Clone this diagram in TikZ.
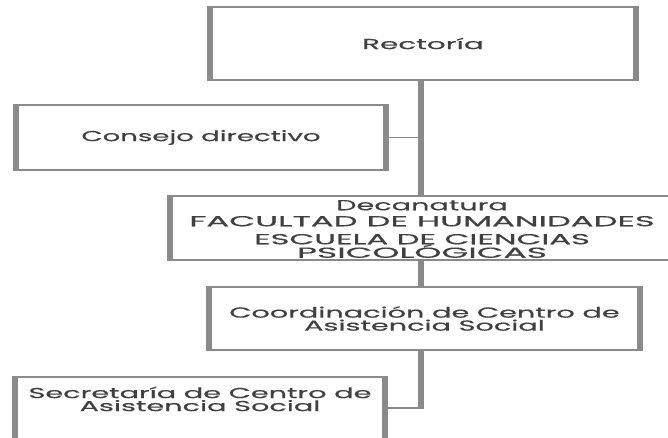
\documentclass[tikz,border=0pt]{standalone}
\usepackage{fontspec}
\setmainfont{Poppins}[FakeBold=0.4]
\definecolor{linegray}{HTML}{8A8A8A}
\definecolor{txtgray}{HTML}{404040}
\newcommand\orgfont{\fontsize{14.5}{14}\selectfont}
\newcommand\sx[2][1.98]{\scalebox{#1}[1]{#2}}
\tikzset{
 orgbox/.style={draw=none, inner sep=0pt, align=center, text=txtgray, font=\orgfont},
 orgtext/.style={inner sep=0pt, align=center, text=txtgray, font=\orgfont},
 thinside/.style={draw=linegray, line width=1.8pt},
 thickside/.style={draw=linegray, line width=6pt},
 trunk/.style={draw=linegray, line width=6pt},
 branch/.style={draw=linegray, line width=1.8pt},
}
\newcommand\orgframe[1]{%
 \draw[thinside] (#1.north west) -- (#1.north east) (#1.south west) -- (#1.south east);
 \draw[thickside] ([xshift=3pt,yshift=0.9pt]#1.north west) -- ([xshift=3pt,yshift=-0.9pt]#1.south west)
   ([xshift=-3pt,yshift=0.9pt]#1.north east) -- ([xshift=-3pt,yshift=-0.9pt]#1.south east);}
\begin{document}
\begin{tikzpicture}[x=1pt,y=-1pt]
\useasboundingbox (0,0) rectangle (668,438);
\clip (0,0) rectangle (668,438);
\fill[white] (0,0) rectangle (668,438);
\node[orgbox, minimum width=432pt, minimum height=73pt] (rect) at (423,43.5) {\sx[2.03]{Rectoría}};
\node[orgbox, minimum width=376pt, minimum height=65pt] (consejo) at (201,137.5) {\sx[1.90]{Consejo directivo}};
\node[orgbox, minimum width=513pt, minimum height=64pt] (decan) at (423.5,228) {};
\node[orgtext] (decantext) at (422,229) {\sx{Decanatura}\\[2pt]\sx[2.33]{FACULTAD DE HUMANIDADES}\\[4pt]\sx[2.22]{ESCUELA DE CIENCIAS}\\[-0.5pt]\sx[2.38]{PSICOLÓGICAS}};
\node[orgbox, minimum width=437pt, minimum height=63pt] (coord) at (424.5,318.5) {\sx{Coordinación de Centro de}\\[-1pt]\sx{Asistencia Social}};
\node[orgbox, minimum width=376pt, minimum height=73pt] (secret) at (200,413.5) {};
\node[orgtext] (secrettext) at (200,399) {\sx{Secretaría de Centro de}\\[-1pt]\sx{Asistencia Social}};
\orgframe{rect}
\orgframe{consejo}
\orgframe{decan}
\orgframe{coord}
\orgframe{secret}
\coordinate (elbow) at (421,408);
\draw[trunk] (rect.south -| elbow) -- (decan.north -| elbow);
\draw[trunk] (decan.south -| elbow) -- (coord.north -| elbow);
\draw[trunk] (coord.south -| elbow) -- ([yshift=-0.9pt]elbow);
\draw[branch] (consejo.east) -- (consejo.east -| elbow);
\draw[branch] (secret.east |- elbow) -- ([xshift=3pt]elbow);
\end{tikzpicture}
\end{document}
